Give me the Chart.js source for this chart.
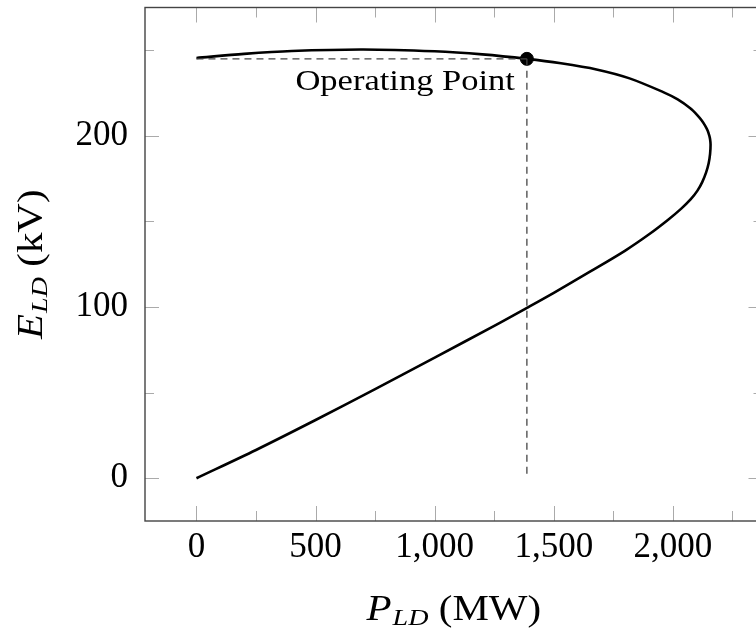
<!DOCTYPE html>
<html>
<head>
<meta charset="utf-8">
<script src="https://cdn.jsdelivr.net/npm/chart.js@4"></script>
<style>
  html, body { margin: 0; padding: 0; overflow: hidden; background: #fff; }
  #wrap { width: 770px; height: 630px; }
</style>
</head>
<body>
<div id="wrap"><canvas id="pv"></canvas></div>
<script>
(function () {
  "use strict";

  // nose curve, walked from the origin up the lower branch, round the nose, back along the top
  const P_LD = [0, 250, 500, 750, 1000, 1250, 1387, 1500, 1650, 1800, 1900, 1980, 2035, 2075, 2103, 2123, 2139, 2150, 2156, 2158,
                2156, 2153, 2146, 2135, 2121, 2103, 2074, 2020, 1957, 1818, 1679, 1530, 1387, 1200, 1000, 700, 400, 200, 0];
  const E_LD = [0, 16.5, 34, 52, 70.5, 89, 99.5, 108.3, 120.5, 133, 142.5, 151, 157.5, 163, 168, 173, 178.5, 184, 189.5, 195,
                198, 200, 203, 206, 209, 212, 216, 221.3, 225.7, 233.6, 238.8, 242.4, 245, 247.6, 249.4, 250.5, 249.6, 247.9, 245.5];

  const OP_P = 1387;
  const OP_E = 245;

  const X_MAJOR = [0, 500, 1000, 1500, 2000];
  const X_MINOR = [250, 750, 1250, 1750, 2250];
  const Y_MAJOR = [0, 100, 200];
  const Y_MINOR = [50, 150, 250];

  const FONT = "'Liberation Serif', 'DejaVu Serif', serif";
  const FRAME_COLOR = "#444";
  const TICK_COLOR = "#aaa";

  function pts(xs, ys) {
    return xs.map(function (x, i) { return { x: x, y: ys[i] }; });
  }

  // inner tick marks + the box round the plot
  const framePlugin = {
    id: "frame",
    afterDraw: function (chart) {
      const ctx = chart.ctx;
      const a = chart.chartArea;
      const xs = chart.scales.x;
      const ys = chart.scales.y;
      ctx.save();
      ctx.strokeStyle = TICK_COLOR;
      ctx.lineWidth = 1;
      function xt(v, len) {
        const px = Math.round(xs.getPixelForValue(v)) + 0.5;
        ctx.beginPath();
        ctx.moveTo(px, a.bottom); ctx.lineTo(px, a.bottom - len);
        ctx.moveTo(px, a.top); ctx.lineTo(px, a.top + len);
        ctx.stroke();
      }
      function yt(v, len) {
        const py = Math.round(ys.getPixelForValue(v)) + 0.5;
        ctx.beginPath();
        ctx.moveTo(a.left, py); ctx.lineTo(a.left + len, py);
        ctx.moveTo(a.right, py); ctx.lineTo(a.right - len, py);
        ctx.stroke();
      }
      X_MAJOR.forEach(function (v) { xt(v, 15); });
      X_MINOR.forEach(function (v) { xt(v, 10); });
      Y_MAJOR.forEach(function (v) { yt(v, 14); });
      Y_MINOR.forEach(function (v) { yt(v, 9); });

      ctx.strokeStyle = FRAME_COLOR;
      ctx.lineWidth = 1.4;
      ctx.strokeRect(a.left, a.top, a.right - a.left, a.bottom - a.top);

      // axis titles with subscripts, stretched a bit to match the wider TeX face
      ctx.fillStyle = "#000";
      ctx.textBaseline = "alphabetic";
      function label(main, sub, rest) {
        ctx.font = "italic 35px " + FONT;
        const w1 = ctx.measureText(main).width;
        ctx.font = "italic 24px " + FONT;
        const w2 = ctx.measureText(sub).width;
        ctx.font = "35px " + FONT;
        const w3 = ctx.measureText(rest).width;
        ctx.scale(1.17, 1);
        let x = -(w1 + w2 + w3 + 1) / 2;
        ctx.font = "italic 35px " + FONT;
        ctx.fillText(main, x, 0);
        x += w1 + 1;
        ctx.font = "italic 24px " + FONT;
        ctx.fillText(sub, x, 5);
        x += w2;
        ctx.font = "35px " + FONT;
        ctx.fillText(rest, x, 0);
      }
      ctx.save();
      ctx.translate((a.left + a.right) / 2, 620);
      label("P", "LD", " (MW)");
      ctx.restore();

      ctx.save();
      ctx.translate(42, (a.top + a.bottom) / 2);
      ctx.rotate(-Math.PI / 2);
      label("E", "LD", " (kV)");
      ctx.restore();

      // annotation
      ctx.save();
      ctx.font = "30px " + FONT;
      ctx.textAlign = "right";
      ctx.translate(xs.getPixelForValue(OP_P) - 12, ys.getPixelForValue(OP_E) + 31);
      ctx.scale(1.15, 1);
      ctx.fillText("Operating Point", 0, 0);
      ctx.restore();
      ctx.restore();
    }
  };

  new Chart(document.getElementById("pv"), {
    type: "scatter",
    data: {
      datasets: [
        {
          data: pts([0, OP_P], [OP_E, OP_E]),
          showLine: true,
          borderColor: "#444",
          borderWidth: 1.3,
          borderDash: [7, 5],
          pointRadius: 0,
        },
        {
          data: pts([OP_P, OP_P], [OP_E, 0]),
          showLine: true,
          borderColor: "#444",
          borderWidth: 1.3,
          borderDash: [7, 5],
          pointRadius: 0,
        },
        {
          data: pts(P_LD, E_LD),
          showLine: true,
          borderColor: "#000",
          borderWidth: 2.6,
          tension: 0.3,
          pointRadius: 0,
        },
        {
          data: pts([OP_P], [OP_E]),
          pointRadius: 6.5,
          pointBackgroundColor: "#000",
          pointBorderColor: "#000",
        },
      ],
    },
    options: {
      responsive: true,
      maintainAspectRatio: false,
      animation: false,
      layout: { padding: { top: 5, right: 3, left: 0, bottom: 0 } },
      plugins: { legend: { display: false }, tooltip: { enabled: false } },
      scales: {
        x: {
          type: "linear",
          min: -216,
          max: 2376,
          afterBuildTicks: function (s) {
            s.ticks = X_MAJOR.map(function (v) { return { value: v }; });
          },
          ticks: {
            color: "#000",
            font: { family: FONT, size: 35 },
            padding: 6,
            maxRotation: 0,
            callback: function (v) { return v.toLocaleString("en-US"); },
          },
          grid: { display: false, drawTicks: false },
          border: { display: false },
          afterFit: function (s) {
            s.height = 109;
            s.paddingLeft = 0;
            s.paddingRight = 0;
          },
        },
        y: {
          type: "linear",
          min: -25,
          max: 275,
          afterBuildTicks: function (s) {
            s.ticks = Y_MAJOR.map(function (v) { return { value: v }; });
          },
          ticks: {
            color: "#000",
            font: { family: FONT, size: 35 },
            padding: 17,
          },
          grid: { display: false, drawTicks: false },
          border: { display: false },
          afterFit: function (s) {
            s.width = 145;
            s.paddingTop = 0;
            s.paddingBottom = 0;
          },
        },
      },
    },
    plugins: [framePlugin],
  });
})();
</script>
</body>
</html>
